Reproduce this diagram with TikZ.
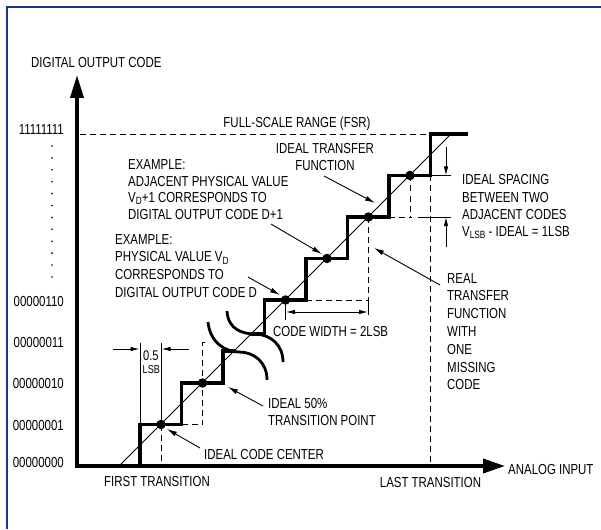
\documentclass[tikz,border=0pt]{standalone}
\usepackage{fontspec}
\setmainfont[FakeStretch=0.79]{Liberation Sans}
\usetikzlibrary{arrows.meta}
\definecolor{framecol}{RGB}{28,52,140}
\newcommand\lowsub[1]{\raisebox{-2.5pt}{\fontsize{10.5}{10.5}\selectfont #1}}
\begin{document}
\begin{tikzpicture}[x=1pt,y=-1pt,
  txt/.style={inner sep=0pt, font=\fontsize{14.5}{17}\selectfont, anchor=base west},
  txtc/.style={txt, anchor=base},
  txte/.style={txt, anchor=base east},
  axisline/.style={line width=3.6pt},
  stair/.style={line width=3.4pt, line join=miter},
  thinline/.style={line width=0.9pt},
  dashline/.style={line width=0.9pt, dash pattern=on 6pt off 4pt},
  brk/.style={line width=2.8pt},
  callout/.style={thinline, -{Latex[length=10pt,width=5pt]}},
  dimarrow/.style={thinline, -{Latex[length=9pt,width=4.5pt]}},
  dot/.style={circle, fill=black, inner sep=0pt, minimum size=9.5pt},
  ydot/.style={circle, fill=black, inner sep=0pt, minimum size=1.8pt},
]
\fill[white] (0,0) rectangle (601,529);
\useasboundingbox (0,0) rectangle (601,529);
% frame
\draw[framecol, line width=2.2pt] (7,529) -- (7,7) -- (601,7);

% dashed helper lines
\draw[dashline] (80,134) -- (430.5,134);
\draw[dashline] (161,424.5) -- (161,466);
\draw[dashline] (181.5,424.5) -- (202.5,424.5) -- (202.5,342) -- (208,342);
\draw[dashline] (306,300) -- (368.5,300);
\draw[dashline] (368.5,217) -- (368.5,300);
\draw[dashline] (389,217) -- (412,217);
\draw[dashline] (410,175.5) -- (410,217);
\draw[dashline] (430.5,175.5) -- (430.5,466);

% solid extension lines
\draw[thinline] (140,424.5) -- (140,343);
\draw[thinline] (161,424.5) -- (161,343);
\draw[thinline] (285.5,300) -- (285.5,320);
\draw[thinline] (368.5,300) -- (368.5,315);
\draw[thinline] (430.5,175.5) -- (451,175.5);
\draw[thinline] (418,217) -- (451,217);

% ideal transfer function (diagonal)
\draw[line width=0.8pt] (119,466) -- (451,134);

% real transfer function (staircase)
\draw[stair] (140,466) -- (140,424.5) -- (181.5,424.5) -- (181.5,383) -- (223,383) -- (223,351) -- (236,351);
\draw[stair] (250,334) -- (264.5,334) -- (264.5,300) -- (306,300) -- (306,258.5) -- (347.5,258.5) -- (347.5,217) -- (389,217) -- (389,175.5) -- (430.5,175.5) -- (430.5,134) -- (468,134);

% break marks
\draw[brk] (227,311) .. controls (228,330) and (243,334) .. (256,334) .. controls (271,335) and (283,345) .. (283,362);
\draw[brk] (208,322) .. controls (210,343) and (226,352) .. (239,352) .. controls (254,352) and (267,362) .. (267,380);

% dots
\node[dot] (d1) at (161,424.5) {};
\node[dot] (d2) at (202.5,383) {};
\node[dot] (d4) at (285.5,300) {};
\node[dot] (d5) at (327,258.5) {};
\node[dot] (d6) at (368.5,217) {};
\node[dot] (d7) at (410,175.5) {};

% axes
\draw[axisline, -{Triangle[length=23pt,width=13pt]}] (77,467.8) -- (77,75);
\draw[axisline, -{Triangle[length=22pt,width=14pt]}] (75.2,466) -- (505,466);

% y axis labels
\node[txte] (c255) at (64,135) {11111111};
\node[txte] (c6) at (64,306) {00000110};
\node[txte] (c3) at (64,347) {00000011};
\node[txte] (c2) at (64,388) {00000010};
\node[txte] (c1) at (64,430) {00000001};
\node[txte] (c0) at (64,467) {00000000};
\foreach \i in {0,...,11} \node[ydot] (yd\i) at (52,146+\i*11.9) {};

% texts
\node[txt] (ylab) at (31,68) {DIGITAL OUTPUT CODE};
\node[txtc] (fsr) at (297,128) {FULL-SCALE RANGE (FSR)};
\node[txtc] (itf1) at (325,154) {IDEAL TRANSFER};
\node[txtc] (itf2) at (325,171) {FUNCTION};
\node[txt] (exa1) at (128,170) {EXAMPLE:};
\node[txt] (exa2) at (128,186) {ADJACENT PHYSICAL VALUE};
\node[txt] (exa3) at (128,202) {V\lowsub{D}+1 CORRESPONDS TO};
\node[txt] (exa4) at (128,219) {DIGITAL OUTPUT CODE D+1};
\node[txt] (exb1) at (115,244) {EXAMPLE:};
\node[txt] (exb2) at (115,261.5) {PHYSICAL VALUE V\lowsub{D}};
\node[txt] (exb3) at (115,279) {CORRESPONDS TO};
\node[txt] (exb4) at (115,297) {DIGITAL OUTPUT CODE D};
\node[txt] (cw) at (273,336) {CODE WIDTH = 2LSB};
\node[txt] (sp1) at (462,185) {IDEAL SPACING};
\node[txt] (sp2) at (462,202) {BETWEEN TWO};
\node[txt] (sp3) at (462,219) {ADJACENT CODES};
\node[txt] (sp4) at (462,236) {V\lowsub{LSB} - IDEAL = 1LSB};
\node[txt] (rt1) at (447,283) {REAL};
\node[txt] (rt2) at (447,300) {TRANSFER};
\node[txt] (rt3) at (447,318) {FUNCTION};
\node[txt] (rt4) at (447,336) {WITH};
\node[txt] (rt5) at (447,354) {ONE};
\node[txt] (rt6) at (447,372) {MISSING};
\node[txt] (rt7) at (447,389) {CODE};
\node[txt] (tp1) at (268,408) {IDEAL 50\%};
\node[txt] (tp2) at (268,425) {TRANSITION POINT};
\node[txt] (icc) at (204,459) {IDEAL CODE CENTER};
\node[txtc] (ft) at (157,486) {FIRST TRANSITION};
\node[txtc] (lt) at (430.5,487) {LAST TRANSITION};
\node[txt] (ai) at (508,474) {ANALOG INPUT};
\node[txt, font=\fontsize{14}{14}\selectfont] (half) at (143,360) {0.5};
\node[txt, font=\fontsize{11.5}{11.5}\selectfont] (lsb) at (142.5,373) {LSB};

% callout arrows
\coordinate (a1s) at (324,176); \coordinate (a1e) at (375,203);
\coordinate (a2s) at (271,224); \coordinate (a2e) at (322,254);
\coordinate (a3s) at (248,277); \coordinate (a3e) at (280,295);
\coordinate (a4s) at (440,285); \coordinate (a4e) at (374,248);
\coordinate (a5s) at (263,406); \coordinate (a5e) at (228,387);
\coordinate (a6s) at (200,448); \coordinate (a6e) at (167,429);
\draw[callout] (a1s) -- (a1e);
\draw[callout] (a2s) -- (a2e);
\draw[callout] (a3s) -- (a3e);
\draw[callout] (a4s) -- (a4e);
\draw[callout] (a5s) -- (a5e);
\draw[callout] (a6s) -- (a6e);

% dimension arrows
\coordinate (cwl) at (286,312); \coordinate (cwr) at (368,312);
\draw[thinline, {Latex[length=9pt,width=4.5pt]}-{Latex[length=9pt,width=4.5pt]}] (cwl) -- (cwr);
\coordinate (h1s) at (113,349); \coordinate (h1e) at (139.5,349);
\coordinate (h2s) at (189,349); \coordinate (h2e) at (161.5,349);
\draw[dimarrow] (h1s) -- (h1e);
\draw[dimarrow] (h2s) -- (h2e);
\coordinate (v1s) at (446,147); \coordinate (v1e) at (446,175.5);
\coordinate (v2s) at (446,247); \coordinate (v2e) at (446,217);
\draw[dimarrow] (v1s) -- (v1e);
\draw[dimarrow] (v2s) -- (v2e);
\end{tikzpicture}
\end{document}
